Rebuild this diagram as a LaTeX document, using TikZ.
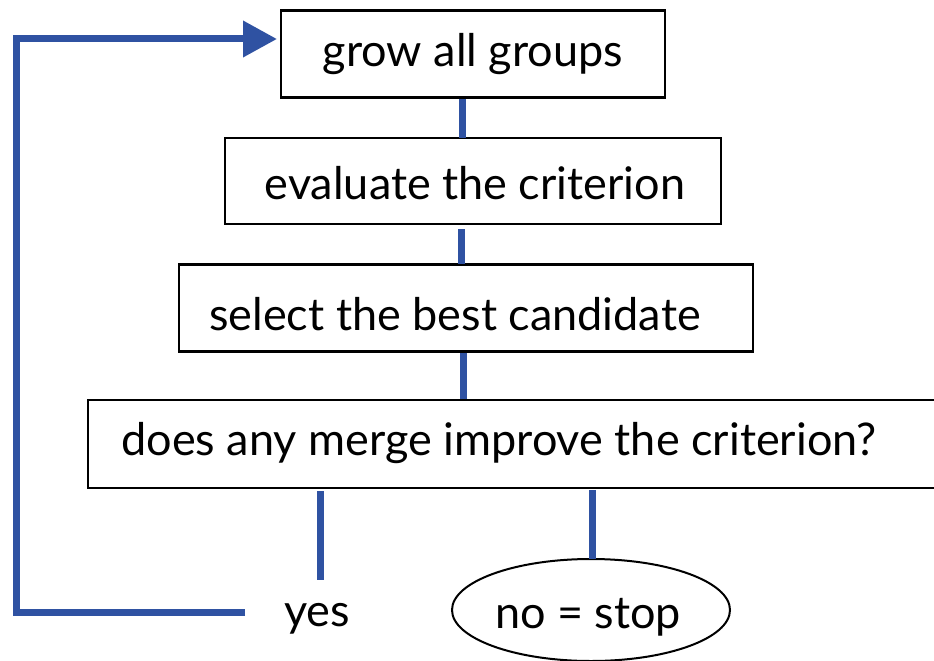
\documentclass[tikz,border=0pt]{standalone}
\usepackage{fontspec}
\setmainfont{Lato}
\usetikzlibrary{shapes.geometric,arrows.meta}
\definecolor{flowblue}{RGB}{47,82,162}
\begin{document}
\begin{tikzpicture}[x=1pt,y=-1pt,
  box/.style={draw=black,line width=2.6pt,fill=white,inner sep=0pt},
  lbl/.style={font=\fontsize{45}{50}\selectfont,inner sep=0pt,anchor=center},
  conn/.style={draw=flowblue,line width=7pt},
]
\useasboundingbox (0,0) rectangle (934,661);
\clip (0,0) rectangle (934,661);
% boxes
\node[box,minimum width=384pt,minimum height=87pt] (b1) at (473,54) {};
\node[box,minimum width=496pt,minimum height=86pt] (b2) at (473,181) {};
\node[box,minimum width=574pt,minimum height=87pt] (b3) at (466,308) {};
\node[box,minimum width=900pt,minimum height=88pt] (b4) at (538,444) {};
\node[draw=black,line width=2pt,ellipse,minimum width=278pt,minimum height=102pt,inner sep=0pt] (stop) at (591,610) {};
% labels
\node[lbl] (t1) at (473,54) {grow all groups};
\node[lbl] (t2) at (475,183) {evaluate the criterion};
\node[lbl] (t3) at (455,314) {select the best candidate};
\node[lbl] (t4) at (499,443) {does any merge improve the criterion?};
\node[lbl] (yes) at (317,619) {yes};
\node[lbl] (t5) at (588,617) {no = stop};
% connector anchors
\coordinate (c12) at (462,99);
\coordinate (c12e) at (462,138);
\coordinate (c23) at (461,229);
\coordinate (c23e) at (461,264);
\coordinate (c34) at (463,353);
\coordinate (c34e) at (463,399);
\coordinate (ya) at (320,491);
\coordinate (yb) at (320,580);
\coordinate (na) at (592,490);
\coordinate (nb) at (592,559);
\coordinate (yl) at (245,612);
\coordinate (cornerB) at (16,612);
\coordinate (cornerT) at (16,39);
\coordinate (tip) at (277,39);
\draw[conn] (c12) -- (c12e);
\draw[conn] (c23) -- (c23e);
\draw[conn] (c34) -- (c34e);
\draw[conn] (ya) -- (yb);
\draw[conn] (na) -- (nb);
\draw[conn,-{Triangle[length=34pt,width=35pt]}] (yl) -- (cornerB) -- (cornerT) -- (tip);
\end{tikzpicture}
\end{document}
